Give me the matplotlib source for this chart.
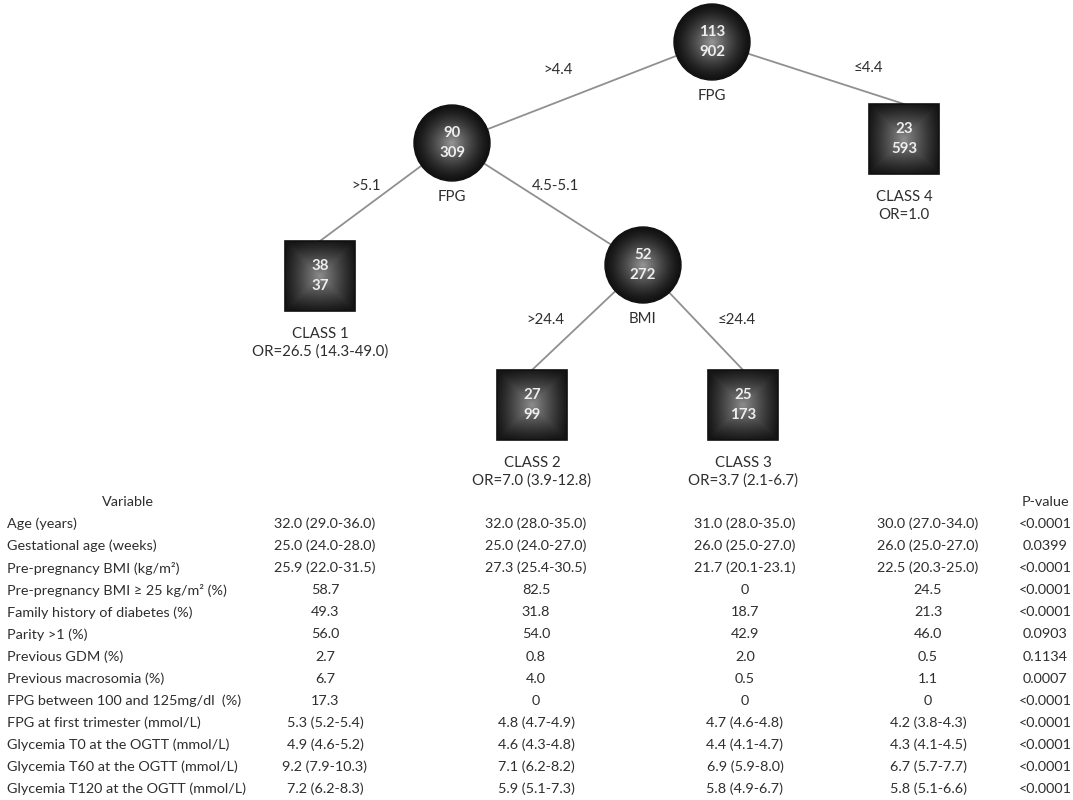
import numpy as np
import matplotlib
matplotlib.use("Agg")
import matplotlib.pyplot as plt
from matplotlib.patches import Circle, Rectangle

plt.rcParams['font.family'] = ['Lato', 'DejaVu Sans']

# --- tree data ---
node_ids = ['root', 'fpg', 'bmi', 'c1', 'c2', 'c3', 'c4']
node_top = [113, 90, 52, 38, 27, 25, 23]
node_bottom = [902, 309, 272, 37, 99, 173, 593]
split_vars = ['FPG', 'FPG', 'BMI']
edges = [('root', 'fpg', '>4.4'), ('root', 'c4', '≤4.4'),
         ('fpg', 'c1', '>5.1'), ('fpg', 'bmi', '4.5-5.1'),
         ('bmi', 'c2', '>24.4'), ('bmi', 'c3', '≤24.4')]
class_names = ['CLASS 1', 'CLASS 2', 'CLASS 3', 'CLASS 4']
odds_ratios = ['OR=26.5 (14.3-49.0)', 'OR=7.0 (3.9-12.8)', 'OR=3.7 (2.1-6.7)', 'OR=1.0']

# --- table data ---
variables = ['Age (years)', 'Gestational age (weeks)', 'Pre-pregnancy BMI (kg/m²)',
             'Pre-pregnancy BMI ≥ 25 kg/m² (%)', 'Family history of diabetes (%)',
             'Parity >1 (%)', 'Previous GDM (%)', 'Previous macrosomia (%)',
             'FPG between 100 and 125mg/dl  (%)', 'FPG at first trimester (mmol/L)',
             'Glycemia T0 at the OGTT (mmol/L)', 'Glycemia T60 at the OGTT (mmol/L)',
             'Glycemia T120 at the OGTT (mmol/L)']
class1 = ['32.0 (29.0-36.0)', '25.0 (24.0-28.0)', '25.9 (22.0-31.5)', '58.7', '49.3', '56.0',
          '2.7', '6.7', '17.3', '5.3 (5.2-5.4)', '4.9 (4.6-5.2)', '9.2 (7.9-10.3)', '7.2 (6.2-8.3)']
class2 = ['32.0 (28.0-35.0)', '25.0 (24.0-27.0)', '27.3 (25.4-30.5)', '82.5', '31.8', '54.0',
          '0.8', '4.0', '0', '4.8 (4.7-4.9)', '4.6 (4.3-4.8)', '7.1 (6.2-8.2)', '5.9 (5.1-7.3)']
class3 = ['31.0 (28.0-35.0)', '26.0 (25.0-27.0)', '21.7 (20.1-23.1)', '0', '18.7', '42.9',
          '2.0', '0.5', '0', '4.7 (4.6-4.8)', '4.4 (4.1-4.7)', '6.9 (5.9-8.0)', '5.8 (4.9-6.7)']
class4 = ['30.0 (27.0-34.0)', '26.0 (25.0-27.0)', '22.5 (20.3-25.0)', '24.5', '21.3', '46.0',
          '0.5', '1.1', '0', '4.2 (3.8-4.3)', '4.3 (4.1-4.5)', '6.7 (5.7-7.7)', '5.8 (5.1-6.6)']
p_values = ['<0.0001', '0.0399', '<0.0001', '<0.0001', '<0.0001', '0.0903', '0.1134',
            '0.0007', '<0.0001', '<0.0001', '<0.0001', '<0.0001', '<0.0001']

# layout (pixel coords, y downwards)
pos = {'root': (712, 42), 'fpg': (452, 143), 'bmi': (643, 265),
       'c1': (320, 276), 'c2': (532, 405), 'c3': (743, 405), 'c4': (904, 139)}
R = 38      # circle radius
H = 35      # half side of squares
label_pos = {'>4.4': (558, 70), '≤4.4': (868, 68), '>5.1': (366, 186),
             '4.5-5.1': (556, 186), '>24.4': (545, 320), '≤24.4': (737, 320)}
col_x = [325, 536, 745, 928, 1045]
row_y0, row_dy = 524, 22.1
txt = '#2e2e2e'
fs_tab = 10.4
fs_tree = 10.8

fig = plt.figure(figsize=(10.73, 8.0), dpi=100)
ax = fig.add_axes([0, 0, 1, 1])


def shaded_node(x, y, square):
    n = 150
    g = np.linspace(-1, 1, n)
    gx, gy = np.meshgrid(g, g)
    if square:
        d = 0.6 * np.maximum(np.abs(gx), np.abs(gy)) + 0.4 * np.hypot(gx, gy) / np.sqrt(2)
        half = H
        patch = Rectangle((x - H, y - H), 2 * H, 2 * H, fc='none', ec='#111111', lw=1.2, zorder=3)
        level = 0.07 + 0.48 * (1 - np.clip(d, 0, 1)) ** 1.25
    else:
        d = np.hypot(gx, gy)
        half = R
        patch = Circle((x, y), R, fc='none', ec='#111111', lw=1.0, zorder=3)
        level = 0.07 + 0.52 * (1 - np.clip(d, 0, 1)) ** 1.35
    im = ax.imshow(level, cmap='gray', vmin=0, vmax=1, interpolation='bilinear',
                   extent=(x - half, x + half, y + half, y - half), zorder=2)
    ax.add_patch(patch)
    im.set_clip_path(patch)


# branches
for a, b, lab in edges:
    x0, y0 = pos[a]
    x1, y1 = pos[b]
    if b.startswith('c'):
        y1 = y1 - H
    ax.plot([x0, x1], [y0, y1], color='#909090', lw=1.3, zorder=1)
    lx, ly = label_pos[lab]
    ax.text(lx, ly, lab, ha='center', va='center', fontsize=fs_tree, color=txt)

# nodes
for i, nid in enumerate(node_ids):
    x, y = pos[nid]
    shaded_node(x, y, nid.startswith('c'))
    ax.text(x, y - 10, str(node_top[i]), ha='center', va='center', fontsize=fs_tree,
            fontweight='bold', color='#eeeeee', zorder=4)
    ax.text(x, y + 10, str(node_bottom[i]), ha='center', va='center', fontsize=fs_tree,
            fontweight='bold', color='#eeeeee', zorder=4)

for nid, var in zip(['root', 'fpg', 'bmi'], split_vars):
    x, y = pos[nid]
    ax.text(x, y + 54, var, ha='center', va='center', fontsize=fs_tree, color=txt)

for nid, cname, orr in zip(['c1', 'c2', 'c3', 'c4'], class_names, odds_ratios):
    x, y = pos[nid]
    ax.text(x, y + 58, cname, ha='center', va='center', fontsize=fs_tree, color=txt)
    ax.text(x, y + 76, orr, ha='center', va='center', fontsize=fs_tree, color=txt)

# table
ax.text(128, 502, 'Variable', ha='center', va='center', fontsize=fs_tab, color=txt)
ax.text(col_x[4], 502, 'P-value', ha='center', va='center', fontsize=fs_tab, color=txt)
for i, var in enumerate(variables):
    y = row_y0 + i * row_dy
    ax.text(7, y, var, ha='left', va='center', fontsize=fs_tab, color=txt)
    for cx, col in zip(col_x, [class1, class2, class3, class4, p_values]):
        ax.text(cx, y, col[i], ha='center', va='center', fontsize=fs_tab, color=txt)

ax.set_xlim(0, 1073)
ax.set_ylim(800, 0)
ax.set_aspect('auto')
ax.axis('off')
fig.savefig('out.png', dpi=100, facecolor='white')
